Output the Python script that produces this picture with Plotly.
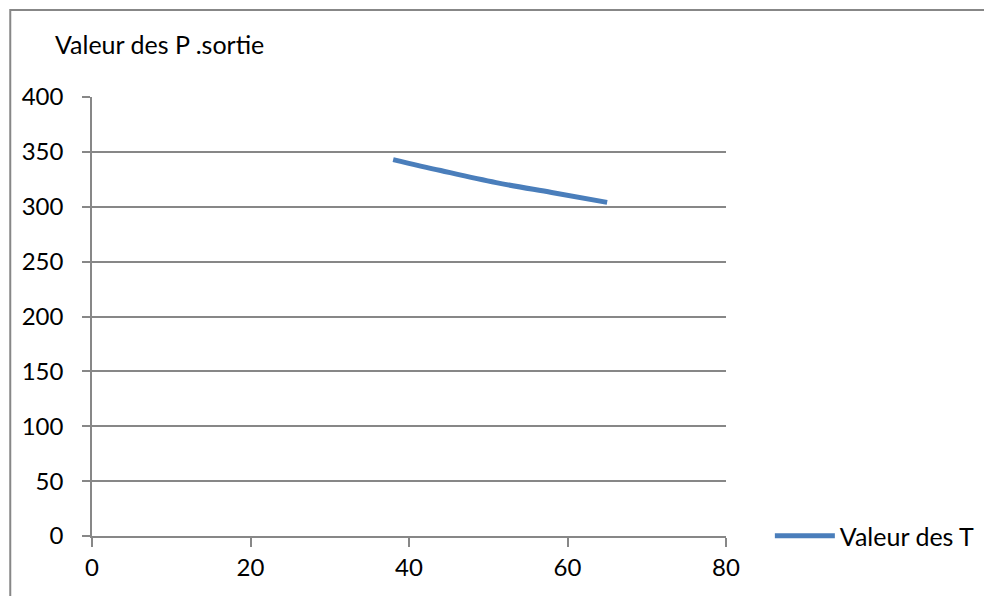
import plotly.graph_objects as go

x_vals = [38, 44, 51, 58, 65]
y_vals = [343, 333, 322, 313, 304]
series_name = "Valeur des T"
y_title = "Valeur des P .sortie"
x_ticks = [0, 20, 40, 60, 80]
y_ticks = [0, 50, 100, 150, 200, 250, 300, 350, 400]

FONT = "Lato"
GRID = "#878787"

OFF = 8  # body margin of the html page
W, H = 992 - OFF, 596 - OFF
L, T = 92 - OFF, 97 - OFF
R = W - (728 - OFF)
B = H - (536 - OFF)
pw, ph = W - L - R, H - T - B

def px_x(p):
    return (p - OFF - L) / pw

def px_y(p):
    return (H - B - (p - OFF)) / ph

fig = go.Figure()
fig.add_trace(go.Scatter(
    x=x_vals, y=y_vals, mode="lines", name=series_name,
    line=dict(color="#4A7EBB", width=5, shape="spline", smoothing=1.0),
))

fig.update_layout(
    width=W, height=H,
    margin=dict(l=L, r=R, t=T, b=B),
    paper_bgcolor="white", plot_bgcolor="white",
    font=dict(family=FONT, size=24, color="black"),
    showlegend=True,
    legend=dict(x=px_x(772), y=0, xanchor="left", yanchor="middle",
                font=dict(family=FONT, size=25, color="black"),
                itemwidth=60, bgcolor="rgba(0,0,0,0)"),
    xaxis=dict(range=[0, 80], tickvals=x_ticks, showgrid=False, zeroline=False,
               showline=True, linecolor=GRID, linewidth=1.5,
               ticks="outside", ticklen=9, tickcolor=GRID, tickwidth=1.5,
               tickfont=dict(family=FONT, size=24, color="black"),
               ticklabelstandoff=0, fixedrange=True),
    yaxis=dict(range=[0, 400], tickvals=y_ticks, showgrid=True, gridcolor=GRID,
               gridwidth=1.5, zeroline=False,
               showline=True, linecolor=GRID, linewidth=1.5,
               ticks="outside", ticklen=8, tickcolor=GRID, tickwidth=1.5,
               tickfont=dict(family=FONT, size=24, color="black"),
               ticklabelstandoff=14, fixedrange=True),
    annotations=[dict(text=y_title, xref="paper", yref="paper",
                      x=px_x(53), y=px_y(44), xanchor="left", yanchor="middle",
                      showarrow=False, font=dict(family=FONT, size=25, color="black"))],
    shapes=[dict(type="path", xref="paper", yref="paper",
                 path=f"M {px_x(10)},{px_y(620)} L {px_x(10)},{px_y(10)} L {px_x(1000)},{px_y(10)}",
                 line=dict(color=GRID, width=2))],
)

fig.write_html("out.html")
